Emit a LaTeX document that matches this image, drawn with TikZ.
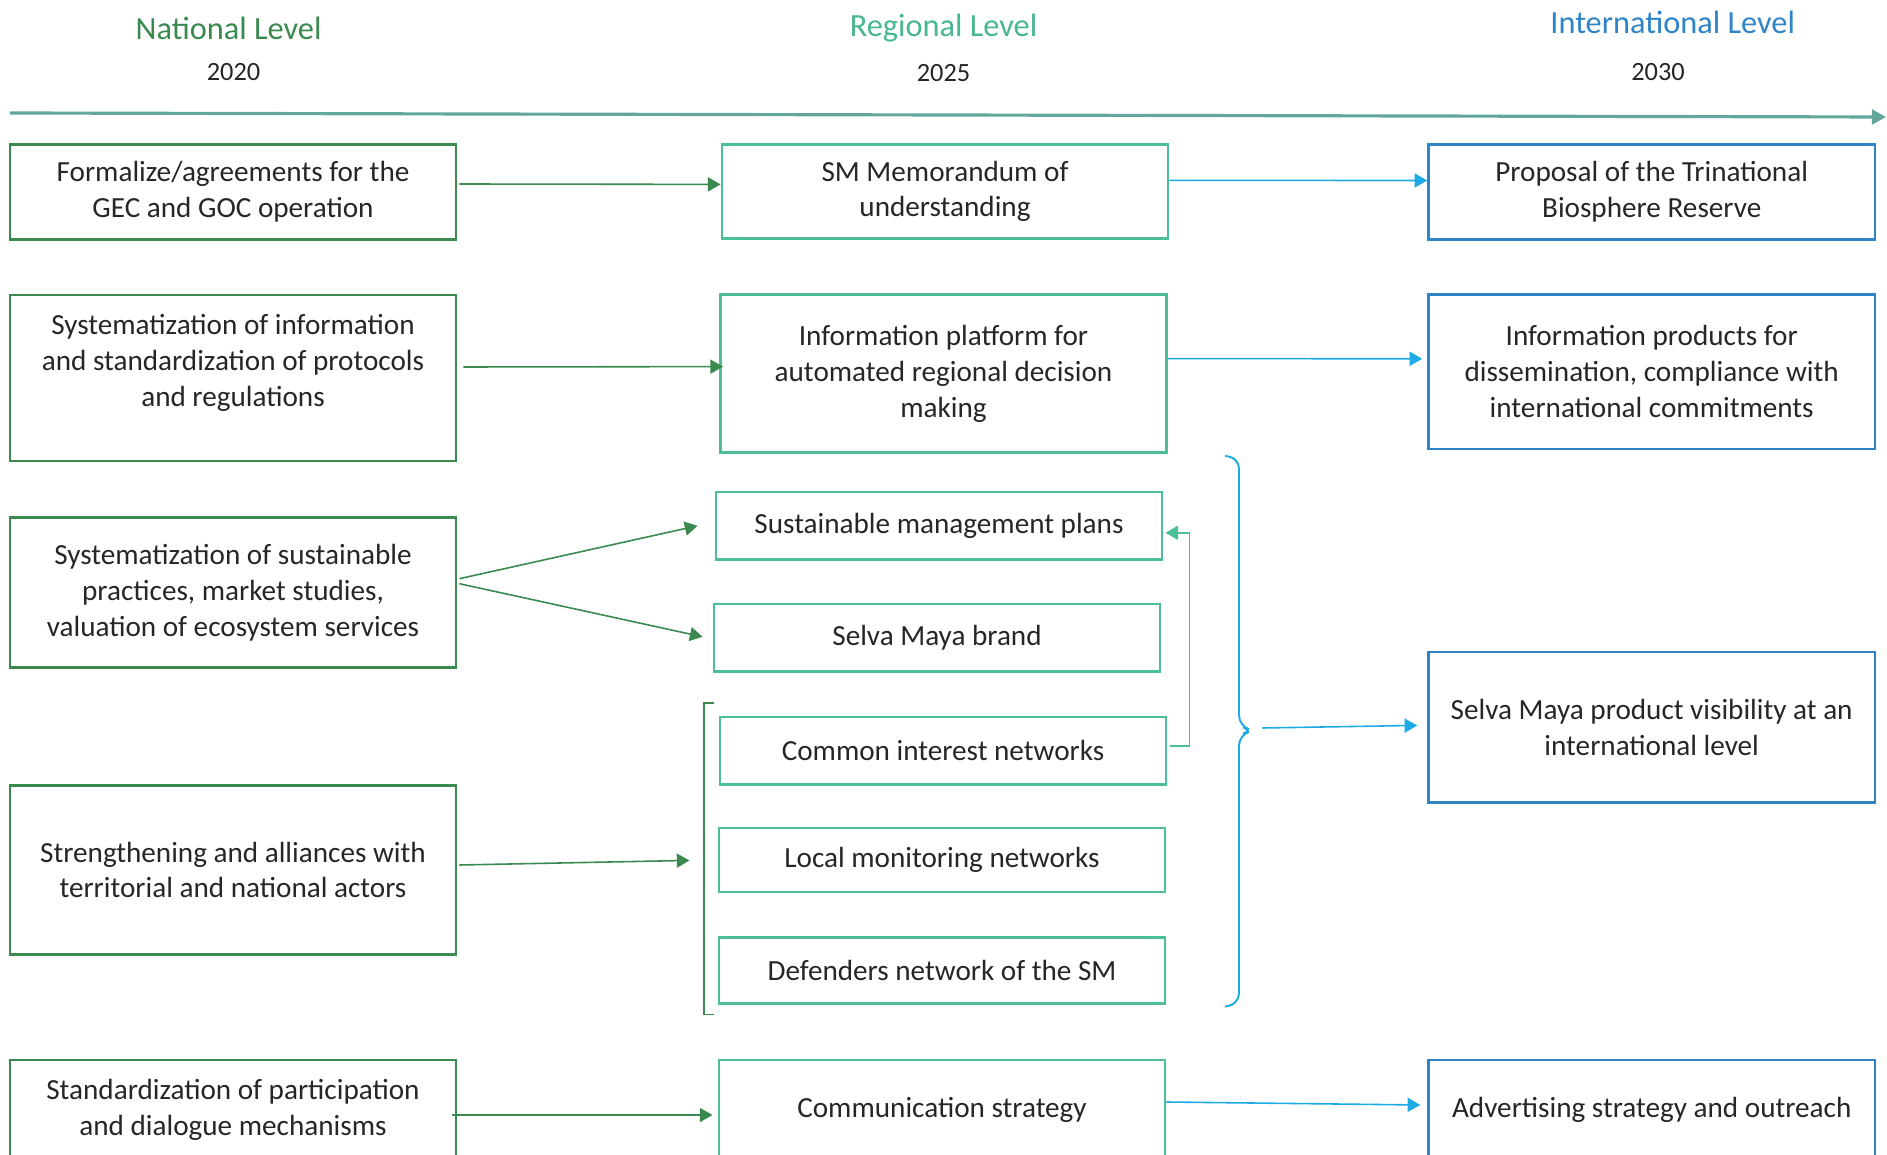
\documentclass[tikz,border=0pt]{standalone}
\usepackage{fontspec}
\setmainfont{Carlito}
\usepackage{tikz}
\usetikzlibrary{arrows.meta,positioning,calc}
\definecolor{natgreen}{HTML}{3A8A50}
\definecolor{reggreen}{HTML}{4CBF96}
\definecolor{intblue}{HTML}{2E84C6}
\definecolor{arrcyan}{HTML}{1DABE6}
\definecolor{tlcolor}{HTML}{62A69C}
\definecolor{txtgray}{HTML}{262626}

\begin{document}
\begin{tikzpicture}[x=0.01cm, y=-0.01cm,
  box/.style={draw, line width=0.75pt, minimum width=4.46cm, inner sep=0pt,
    align=center, text=txtgray, font=\fontsize{8.3}{10.2}\selectfont},
  natbox/.style={box, draw=natgreen},
  regbox/.style={box, draw=reggreen},
  intbox/.style={box, draw=intblue},
  levelhdr/.style={font=\fontsize{9.2}{11}\selectfont},
  yearlbl/.style={font=\fontsize{7.5}{9}\selectfont, text=txtgray},
  arrbase/.style={-{Triangle[length=3.6pt,width=4pt]}, line width=0.45pt},
  natarr/.style={arrbase, natgreen},
  regarr/.style={arrbase, reggreen},
  intarr/.style={arrbase, arrcyan}
]
\useasboundingbox (0,0) rectangle (1887,1155);

% headers and time line
\node[levelhdr, text=natgreen] (natlvl) at (228.6, 28.5) {National Level};
\node[yearlbl] (natyr) at (233.5, 72.2) {2020};
\node[levelhdr, text=reggreen!95!black] (reglvl) at (943.5, 28.5) {Regional Level};
\node[yearlbl] (regyr) at (943.5, 73.4) {2025};
\node[levelhdr, text=intblue] (intlvl) at (1672.7, 22.5) {International Level};
\node[yearlbl] (intyr) at (1658, 72.2) {2030};
\coordinate (tl0) at (10, 113);
\coordinate (tl1) at (1886, 117);
\draw[line width=0.9pt, tlcolor, -{Triangle[length=4pt,width=4.2pt]}] (tl0) -- (tl1);

% national level
\node[natbox, minimum height=0.95cm] (l1) at (233, 192) {Formalize/agreements for the\\GEC and GOC operation};
\node[natbox, minimum height=1.66cm] (l2) at (233, 378)
  {\begin{tabular}{@{}c@{}}Systematization of information\\and standardization of protocols\\and regulations\\[8.2pt]\end{tabular}};
\node[natbox, minimum height=1.5cm] (l3) at (233, 592.7) {Systematization of sustainable\\practices, market studies,\\valuation of ecosystem services};
\node[natbox, minimum height=1.685cm] (l4) at (233, 870) {Strengthening and alliances with\\territorial and national actors};
\node[natbox, minimum height=1cm] (l5) at (233, 1110) {Standardization of participation\\and dialogue mechanisms};

% regional level
\node[regbox, minimum height=0.94cm] (m1) at (945, 191.4) {SM Memorandum of\\understanding};
\node[regbox, minimum height=1.58cm] (m2) at (943.5, 373.6) {Information platform for\\automated regional decision\\making};
\node[regbox, minimum height=0.676cm] (m3) at (939, 525.8) {Sustainable management plans};
\node[regbox, minimum height=0.675cm] (m4) at (937, 637.8) {Selva Maya brand};
\node[regbox, minimum height=0.676cm] (m5) at (943, 750.8) {Common interest networks};
\node[regbox, minimum height=0.64cm] (m6) at (942, 860) {Local monitoring networks};
\node[regbox, minimum height=0.66cm] (m7) at (942, 970.5) {Defenders network of the SM};
\node[regbox, minimum height=1cm] (m8) at (942, 1110) {Communication strategy};

% international level
\node[intbox, minimum height=0.95cm] (r1) at (1651.7, 192) {Proposal of the Trinational\\Biosphere Reserve};
\node[intbox, minimum height=1.54cm] (r2) at (1651.7, 371.8) {Information products for\\dissemination, compliance with\\international commitments};
\node[intbox, minimum height=1.507cm] (r3) at (1651.7, 727.4) {Selva Maya product visibility at an\\international level};
\node[intbox, minimum height=1cm] (r4) at (1651.7, 1110) {Advertising strategy and outreach};

% brackets
\coordinate (lbrk) at (689.5, 860.4);
\draw[natgreen, line width=0.45pt] (713.6, 702.8) -- (704, 702.8) -- (704, 1014.5) -- (713.6, 1014.5);
\coordinate (btip) at (1253, 730.5);
\coordinate (bout) at (1262.4, 728);
\draw[arrcyan, line width=0.55pt, rounded corners=3pt]
  (1225, 456) -- (1239, 458) -- (1239, 726) -- (btip) -- (1239, 735) -- (1239, 1004) -- (1225, 1006.5);

% connectors
\draw[natarr] ($(l1.east)+(2,-8)$) -- ($(m1.west)+(0,-7)$);
\draw[natarr] ($(l2.east)+(6,-11)$) -- ($(m2.west)+(4,-7)$);
\draw[natarr] ($(l3.east)+(2,-14)$) -- ($(m3.west)+(-17,0)$);
\draw[natarr] ($(l3.east)+(2,-9)$) -- ($(m4.west)+(-10,-1)$);
\draw[natarr] ($(l4.east)+(2,-5)$) -- (lbrk);
\draw[natarr] ($(l5.east)+(-5,5)$) -- ($(m8.west)+(-5,5)$);
\draw[regarr] ($(m5.east)+(3,-5)$) -- ++(19,0) |- ($(m3.east)+(2,7)$);
\draw[intarr] ($(m1.east)+(0,-11)$) -- ($(r1.west)+(0,-11.5)$);
\draw[intarr] ($(m2.east)+(0,-15)$) -- ($(r2.west)+(-5,-13)$);
\draw[intarr] (bout) -- ($(r3.west)+(-10,-2)$);
\draw[intarr] ($(m8.east)+(0,-8)$) -- ($(r4.west)+(-7,-5)$);
\end{tikzpicture}
\end{document}
